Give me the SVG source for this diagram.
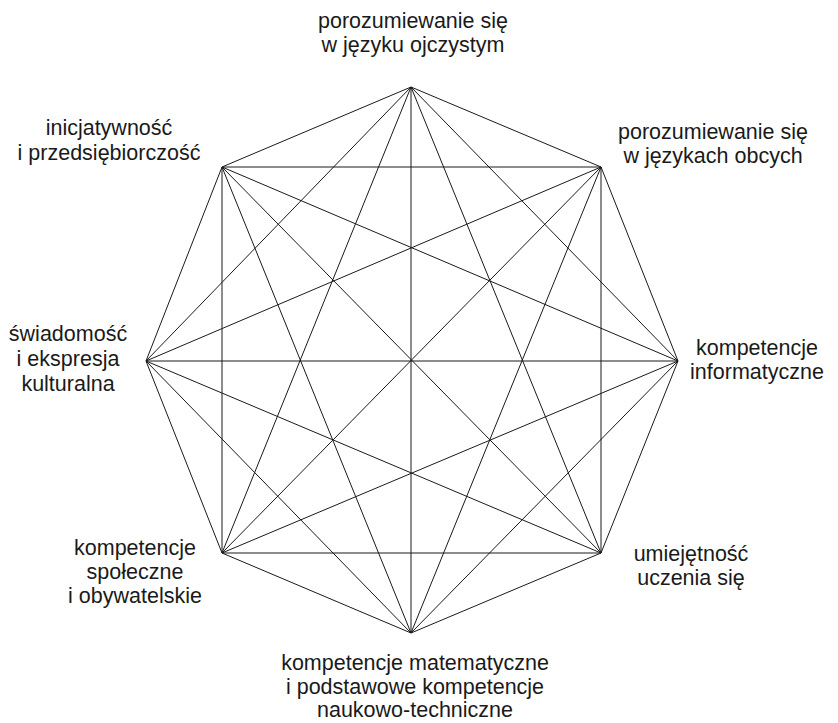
<svg xmlns="http://www.w3.org/2000/svg" width="838" height="723" viewBox="0 0 838 723">
<style>
.bg{fill:#fff}
.e line{stroke:#1a1a1a;stroke-width:1;fill:none}
text{font-family:"Liberation Sans",Arial,sans-serif;font-size:21.5px;fill:#1a1a1a;text-anchor:middle}
</style>
<rect class="bg" x="0" y="0" width="838" height="723"/>
<g id="connectors" class="e">
<line x1="411" y1="87" x2="601" y2="167"/>
<line x1="411" y1="87" x2="678" y2="361"/>
<line x1="411" y1="87" x2="601" y2="553"/>
<line x1="411" y1="87" x2="411" y2="633"/>
<line x1="411" y1="87" x2="222" y2="553"/>
<line x1="411" y1="87" x2="146" y2="361"/>
<line x1="411" y1="87" x2="222" y2="167"/>
<line x1="601" y1="167" x2="678" y2="361"/>
<line x1="601" y1="167" x2="601" y2="553"/>
<line x1="601" y1="167" x2="411" y2="633"/>
<line x1="601" y1="167" x2="222" y2="553"/>
<line x1="601" y1="167" x2="146" y2="361"/>
<line x1="601" y1="167" x2="222" y2="167"/>
<line x1="678" y1="361" x2="601" y2="553"/>
<line x1="678" y1="361" x2="411" y2="633"/>
<line x1="678" y1="361" x2="222" y2="553"/>
<line x1="678" y1="361" x2="146" y2="361"/>
<line x1="678" y1="361" x2="222" y2="167"/>
<line x1="601" y1="553" x2="411" y2="633"/>
<line x1="601" y1="553" x2="222" y2="553"/>
<line x1="601" y1="553" x2="146" y2="361"/>
<line x1="601" y1="553" x2="222" y2="167"/>
<line x1="411" y1="633" x2="222" y2="553"/>
<line x1="411" y1="633" x2="146" y2="361"/>
<line x1="411" y1="633" x2="222" y2="167"/>
<line x1="222" y1="553" x2="146" y2="361"/>
<line x1="222" y1="553" x2="222" y2="167"/>
<line x1="146" y1="361" x2="222" y2="167"/>
</g>
<g id="n-top"><text x="413" y="28">porozumiewanie się</text><text x="413" y="52">w języku ojczystym</text></g>
<g id="n-topright"><text x="713" y="139">porozumiewanie się</text><text x="713" y="163">w językach obcych</text></g>
<g id="n-right"><text x="757" y="355">kompetencje</text><text x="757" y="379">informatyczne</text></g>
<g id="n-bottomright"><text x="691" y="561">umiejętność</text><text x="691" y="585">uczenia się</text></g>
<g id="n-bottom"><text x="415" y="670">kompetencje matematyczne</text><text x="415" y="694">i podstawowe kompetencje</text><text x="415" y="717">naukowo-techniczne</text></g>
<g id="n-bottomleft"><text x="135" y="555">kompetencje</text><text x="135" y="579">społeczne</text><text x="135" y="603">i obywatelskie</text></g>
<g id="n-left"><text x="68" y="341">świadomość</text><text x="68" y="366">i ekspresja</text><text x="68" y="391">kulturalna</text></g>
<g id="n-topleft"><text x="109" y="135">inicjatywność</text><text x="109" y="160">i przedsiębiorczość</text></g>
</svg>
